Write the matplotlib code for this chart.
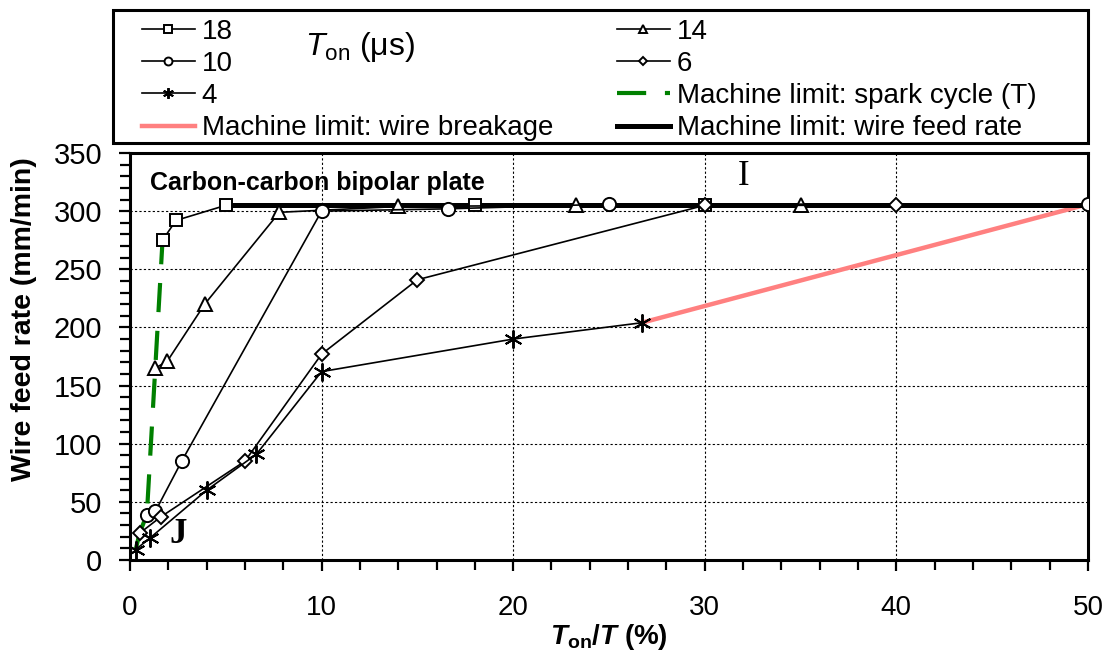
import matplotlib

matplotlib.use("Agg")
import matplotlib.pyplot as plt
from matplotlib.patches import Rectangle
from matplotlib.ticker import MultipleLocator

plt.rcParams["font.family"] = ["Liberation Sans", "DejaVu Sans"]
plt.rcParams["mathtext.fontset"] = "custom"
plt.rcParams["mathtext.rm"] = "Liberation Sans"
plt.rcParams["mathtext.it"] = "Liberation Sans:italic"
plt.rcParams["mathtext.bf"] = "Liberation Sans:bold"
plt.rcParams["mathtext.bfit"] = "Liberation Sans:italic:bold"

# Ton = 18 us
x18 = [1.7, 2.4, 5, 18, 30]
y18 = [275, 292, 305, 305, 305]
# Ton = 14 us
x14 = [1.32, 1.95, 3.9, 7.8, 14, 23.3, 35]
y14 = [165, 171, 220, 299, 304, 305, 305]
# Ton = 10 us
x10 = [0.88, 1.33, 2.7, 10, 16.6, 25, 50]
y10 = [39, 42, 85, 300, 302, 306, 306]
# Ton = 6 us
x6 = [0.5, 1.6, 6, 10, 15, 30, 40]
y6 = [23, 37, 85, 177, 241, 305, 305]
# Ton = 4 us
x4 = [0.3, 1.05, 4, 6.6, 10, 20, 26.7]
y4 = [9, 19, 60, 91, 162, 190, 204]

# machine limits
spark_x = [0.3, 0.5, 0.88, 1.32, 1.7]
spark_y = [9, 23, 39, 165, 275]
breakage_x = [26.7, 50]
breakage_y = [204, 306]
feed_x = [5, 50]
feed_y = [305, 305]

fig = plt.figure(figsize=(11.09, 6.53), dpi=100)
ax = fig.add_axes([0.1172, 0.1424, 0.8638, 0.6233])

mk = dict(color="black", lw=1.2, mfc="white", mec="black", mew=1.4, zorder=4)
h18, = ax.plot(x18, y18, marker="s", ms=9, label="18", **mk)
h14, = ax.plot(x14, y14, marker="^", ms=10, label="14", **mk)
h10, = ax.plot(x10, y10, marker="o", ms=9.5, label="10", **mk)
h6, = ax.plot(x6, y6, marker="D", ms=7.5, label="6", **mk)
h4, = ax.plot(x4, y4, marker=(6, 2, 0), ms=13, label="4", **mk)

h_spark, = ax.plot(spark_x, spark_y, color="#008000", lw=3, dashes=(7, 4.5),
                   label="Machine limit: spark cycle (T)", zorder=3)
h_break, = ax.plot(breakage_x, breakage_y, color="#ff8080", lw=3.2,
                   label="Machine limit: wire breakage", zorder=3)
h_feed, = ax.plot(feed_x, feed_y, color="black", lw=3.6,
                  label="Machine limit: wire feed rate", zorder=3)

ax.set_xlim(0, 50)
ax.set_ylim(0, 350)
ax.xaxis.set_major_locator(MultipleLocator(10))
ax.xaxis.set_minor_locator(MultipleLocator(2))
ax.yaxis.set_major_locator(MultipleLocator(50))
ax.yaxis.set_minor_locator(MultipleLocator(10))
ax.grid(True, which="major", color="black", lw=0.8, ls=(0, (2, 2)))
ax.set_axisbelow(True)

for side in ["top", "right", "bottom", "left"]:
    ax.spines[side].set_linewidth(2.2)
ax.tick_params(which="both", direction="out", width=1.6, colors="black")
ax.tick_params(which="major", length=8)
ax.tick_params(which="minor", length=7)
ax.tick_params(axis="x", which="major", labelsize=20, pad=17)
ax.tick_params(axis="y", which="major", labelsize=21, pad=12)

ax.set_xlabel(r"$\mathbfit{T}_{\mathbf{on}}$/$\mathbfit{T}$ (%)", fontsize=20, fontweight="bold", labelpad=1)
ax.set_ylabel("Wire feed rate (mm/min)", fontsize=20.5, fontweight="bold")
ax.yaxis.set_label_coords(-0.097, 0.592)

ax.text(1.05, 324, "Carbon-carbon bipolar plate", fontsize=18, fontweight="bold", va="center", zorder=5)
ax.text(32, 330, "I", fontsize=25, family=["Liberation Serif", "DejaVu Serif"], ha="center", va="center")
ax.text(2.5, 22, "J", fontsize=25, fontweight="bold", family=["Liberation Serif", "DejaVu Serif"],
        ha="center", va="center")

# legend box drawn by hand, entries placed inside it
fig.patches.append(Rectangle((113 / 1109, 1 - 143 / 653), 975 / 1109, 133 / 653, transform=fig.transFigure,
                             fill=False, edgecolor="black", lw=2.2, zorder=6))
handles = [h18, h10, h4, h_break, h14, h6, h_spark, h_feed]
leg = fig.legend(handles=handles, labels=[h.get_label() for h in handles], ncol=2,
                 loc="upper left", bbox_to_anchor=(142 / 1109, 1 - 19 / 653),
                 borderaxespad=0, fontsize=20, frameon=False,
                 markerscale=0.6, handlelength=1.9, handletextpad=0.25, labelspacing=0.22,
                 borderpad=0.0, columnspacing=2.3)
fig.text(0.275, 0.928, r"$\mathit{T}_{\mathrm{on}}$ (μs)", fontsize=23, va="center", zorder=10)

fig.savefig("out.png", dpi=100)
